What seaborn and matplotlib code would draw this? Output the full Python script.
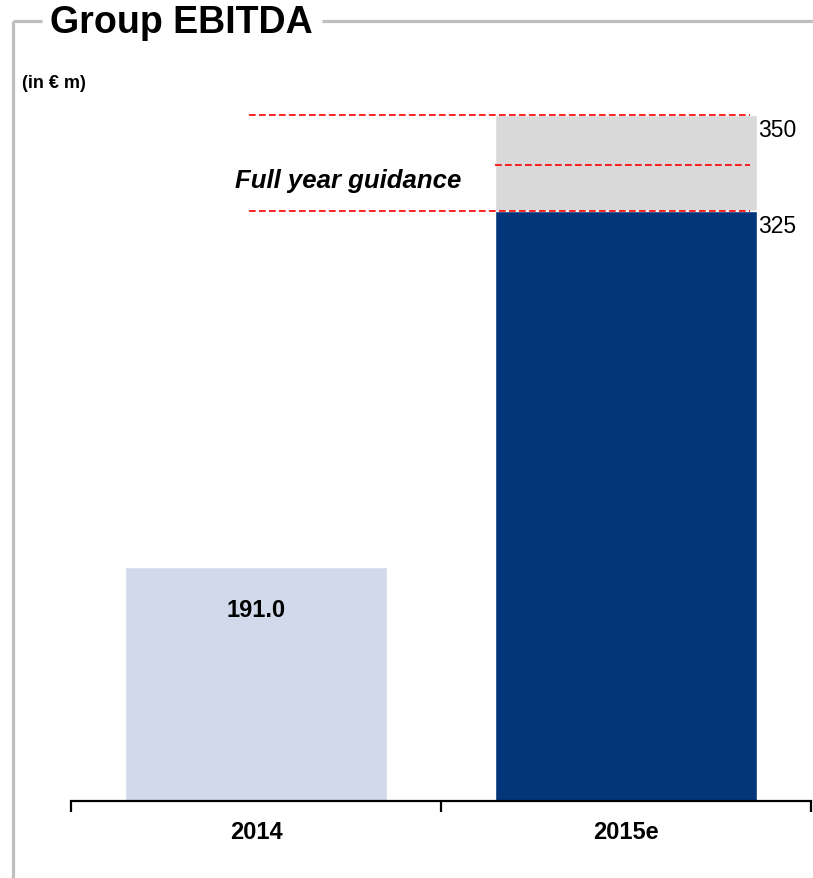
import numpy as np
import matplotlib
matplotlib.use("Agg")
import matplotlib.pyplot as plt
from matplotlib.lines import Line2D
import seaborn as sns

# Data (EUR million)
categories = ["2014", "2015e"]
ebitda = [191.0, 325.0]
guidance_low = 325.0
guidance_high = 350.0
bar_colors = ["#D2D9EA", "#03357A"]

sns.set_style("white")
plt.rcParams["font.family"] = ["Liberation Sans", "DejaVu Sans"]
plt.rcParams["text.color"] = "black"
plt.rcParams["xtick.color"] = "black"
plt.rcParams["xtick.labelcolor"] = "black"
plt.rcParams["xtick.bottom"] = True

W, H = 813, 879
fig = plt.figure(figsize=(W / 100, H / 100), dpi=100)
fig.patch.set_facecolor("white")

# Plot area in figure pixels
left_px, right_px, base_px, top_px = 71, 811, 802, 116
ax = fig.add_axes([left_px / W, (H - base_px) / H,
                   (right_px - left_px) / W, (base_px - top_px) / H])

# Progressive vertical scale so that the guidance range stays readable
K = 205.0
def fwd(v):
    return np.expm1(np.asarray(v, dtype=float) / K)
def inv(u):
    return K * np.log1p(np.asarray(u, dtype=float))
ax.set_yscale("function", functions=(fwd, inv))

bar_w = 0.71
sns.barplot(x=categories, y=ebitda, hue=categories, palette=bar_colors,
            width=bar_w, saturation=1, errorbar=None, legend=False, ax=ax,
            zorder=2)

# Guidance range stacked on the 2015e estimate
i15 = categories.index("2015e")
ax.bar(i15, guidance_high - guidance_low, bottom=guidance_low, width=bar_w,
       color="#D9D9D9", zorder=1, clip_on=False)

ax.set_xlim(-0.5, 1.5)
ax.set_ylim(0, guidance_high)

# Guidance markers
dash = dict(color="#FF0000", lw=1.2, linestyle=(0, (4, 2)), zorder=3, clip_on=False)
x_start = -0.02
x_end = i15 + bar_w / 2 - 0.02
ax.plot([x_start, x_end], [guidance_high] * 2, **dash)
ax.plot([x_start, x_end], [guidance_low] * 2, **dash)
mid = (guidance_low + guidance_high) / 2
ax.plot([i15 - bar_w / 2, x_end], [mid] * 2, **dash)

ax.annotate(f"{guidance_high:.0f}", (i15 + bar_w / 2, guidance_high),
            xytext=(1, -3), textcoords="offset pixels", ha="left", va="top",
            fontsize=16.5, color="black", annotation_clip=False)
ax.annotate(f"{guidance_low:.0f}", (i15 + bar_w / 2, guidance_low),
            xytext=(1, -3), textcoords="offset pixels", ha="left", va="top",
            fontsize=16.5, color="black", annotation_clip=False)
ax.annotate("Full year guidance", (0.25, mid), xytext=(0, -15),
            textcoords="offset pixels", ha="center", va="center",
            fontsize=18.5, fontweight="bold", fontstyle="italic",
            color="black", annotation_clip=False)

# Value label inside the 2014 bar
i14 = categories.index("2014")
ax.annotate(f"{ebitda[i14]:.1f}", (i14, ebitda[i14]), xytext=(0, -42),
            textcoords="offset pixels", ha="center", va="center",
            fontsize=17, fontweight="bold", color="black")

# Axes styling
for s in ["left", "top", "right"]:
    ax.spines[s].set_visible(False)
ax.spines["bottom"].set_color("black")
ax.spines["bottom"].set_linewidth(1.6)
ax.set_yticks([])
ax.yaxis.set_minor_locator(matplotlib.ticker.NullLocator())
ax.set_xticks(range(len(categories)))
ax.set_xticklabels(categories, fontsize=17, fontweight="bold", color="black")
ax.set_xticks([-0.5, 0.5, 1.5], minor=True)
ax.tick_params(axis="x", which="major", bottom=True, length=0, pad=14)
ax.tick_params(axis="x", which="minor", bottom=True, length=8, width=1.6,
               direction="out", color="black")
ax.set_xlabel("")
ax.set_ylabel("")

# Panel frame and heading
frame_c = "#BFBFBF"
frame_lw = 2.3
def px(x, y):
    return x / W, 1 - y / H
for seg in [((13, 22), (13, 879)), ((13, 22), (42, 22)), ((322, 22), (813, 22))]:
    (x0, y0), (x1, y1) = seg
    a, b = px(x0, y0)
    c, d = px(x1, y1)
    fig.add_artist(Line2D([a, c], [b, d], color=frame_c, lw=frame_lw,
                          solid_capstyle="butt"))

fig.text(*px(50, 23), "Group EBITDA", fontsize=27, fontweight="bold",
         ha="left", va="center", color="black")
fig.text(*px(22, 83), "(in € m)", fontsize=13, fontweight="bold",
         ha="left", va="center", color="black")

fig.savefig("out.png", dpi=100, facecolor="white")
